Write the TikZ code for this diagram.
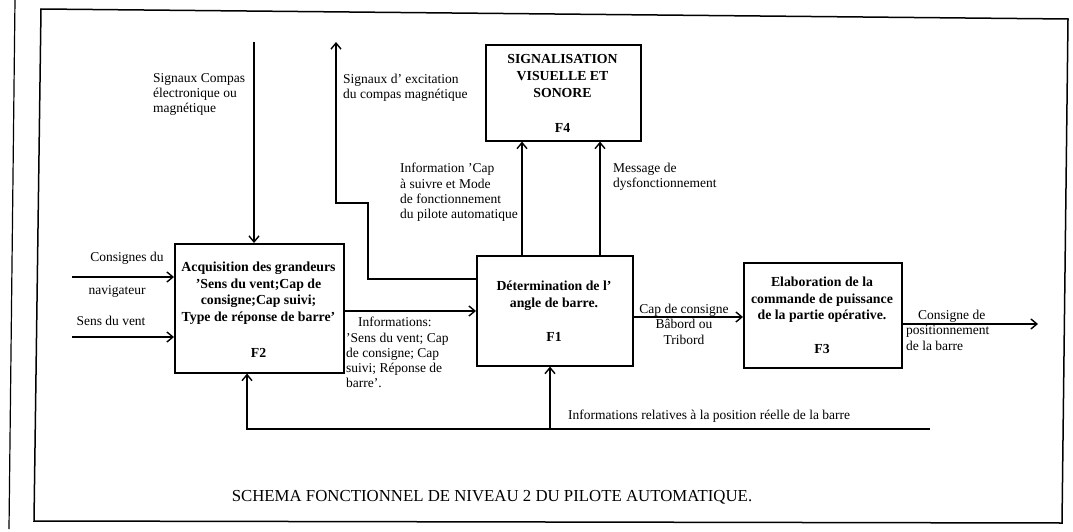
\documentclass[tikz,border=0pt]{standalone}
\usepackage{fontspec}
\setmainfont{Liberation Serif}
\usetikzlibrary{arrows.meta}
\begin{document}
\begin{tikzpicture}[x=1pt,y=-1pt,
  frame/.style={line width=1.5pt,line join=miter},
  arr/.style={line width=1.5pt,-{Straight Barb[length=6pt,width=10pt,line width=1.4pt]}},
  box/.style={draw,line width=1.6pt,inner sep=0pt,anchor=north west},
  lbl/.style={inner sep=0pt,anchor=north west,align=left,font=\fontsize{13.5}{15.3}\selectfont},
  clbl/.style={inner sep=0pt,align=center,font=\fontsize{13.5}{15.5}\selectfont},
  btxt/.style={inner sep=0pt,align=center,font=\fontsize{13.8}{16.8}\selectfont\bfseries},
  ttl/.style={inner sep=0pt,font=\fontsize{16.8}{19}\selectfont}
]
\useasboundingbox (0,0) rectangle (1073,532);
% frame (scanned, slightly skewed)
\draw[frame] (41,9) -- (1068,19) -- (1062,523) -- (34,521) -- cycle;
\draw[line width=1.2pt] (15,0) -- (9,529);

% boxes
\node[box,minimum width=155pt,minimum height=96pt] (F4) at (485,44) {};
\node[box,minimum width=169pt,minimum height=129pt] (F2) at (174,243) {};
\node[box,minimum width=156pt,minimum height=110pt] (F1) at (476,255) {};
\node[box,minimum width=158pt,minimum height=105pt] (F3) at (743,262) {};

% box texts
\node[btxt,anchor=north] (F4t) at (562.5,54.5) {SIGNALISATION\\VISUELLE ET\\SONORE};
\node[btxt] (F4n) at (562.5,128) {F4};
\node[btxt,anchor=north] (F2t) at (258.5,261.5) {Acquisition des grandeurs\\'Sens du vent;Cap de\\consigne;Cap suivi;\\Type de réponse de barre'};
\node[btxt] (F2n) at (258.5,353) {F2};
\node[btxt,anchor=north] (F1t) at (554,280.5) {Détermination de l'\\angle de barre.};
\node[btxt] (F1n) at (554,337) {F1};
\node[btxt,anchor=north] (F3t) at (822,276.5) {Elaboration de la\\commande de puissance\\de la partie opérative.};
\node[btxt] (F3n) at (822,349) {F3};

% connector points
\coordinate (cs) at (254,42);
\coordinate (e1) at (368,279);
\coordinate (e2) at (368,203);
\coordinate (e3) at (336,203);
\coordinate (e4) at (336,42);
\coordinate (s1) at (522,200);
\coordinate (s2) at (600,200);
\coordinate (i1) at (72,277);
\coordinate (i2) at (72,337);
\coordinate (m1) at (0,311);
\coordinate (m2) at (0,317);
\coordinate (o1) at (1038,324);
\coordinate (fb0) at (930,429);
\coordinate (fb1) at (247,429);
\coordinate (fb2) at (550,429);

% connectors
\draw[arr] (cs) -- (cs |- F2.north);
\draw[arr] (F1.west |- e1) -- (e1) -- (e2) -- (e3) -- (e4);
\draw[arr] (s1 |- F1.north) -- (s1 |- F4.south);
\draw[arr] (s2 |- F1.north) -- (s2 |- F4.south);
\draw[arr] (i1) -- (i1 -| F2.west);
\draw[arr] (i2) -- (i2 -| F2.west);
\draw[arr] (F2.east |- m1) -- (F1.west |- m1);
\draw[arr] (F1.east |- m2) -- (F3.west |- m2);
\draw[arr] (F3.east |- o1) -- (o1);
\draw[arr] (fb0) -- (fb1) -- (fb1 |- F2.south);
\draw[arr] (fb2) -- (fb2 |- F1.south);

% labels
\node[lbl] (lcomp) at (153,73) {Signaux Compas\\électronique ou\\magnétique};
\node[lbl] (lexc) at (343,74) {Signaux d' excitation\\du compas magnétique};
\node[lbl] (linfo) at (400,163) {Information 'Cap\\à suivre et Mode\\de fonctionnement\\du pilote automatique};
\node[lbl] (lmsg) at (613,163) {Message de\\dysfonctionnement};
\node[clbl] (lcons1) at (127,258) {Consignes du};
\node[clbl] (lcons2) at (117,291) {navigateur};
\node[clbl] (lsens) at (111,321) {Sens du vent};
\node[lbl] (linf2) at (346,317) {\hspace*{12pt}Informations:\\'Sens du vent; Cap\\de consigne; Cap\\suivi; Réponse de\\barre'.};
\node[clbl] (lcap) at (684,324) {Cap de consigne\\Bâbord ou\\Tribord};
\node[lbl] (lpos) at (906,310) {\hspace*{12pt}Consigne de\\positionnement\\de la barre};
\node[lbl] (lfb) at (568,410) {Informations relatives à la position réelle de la barre};
\node[ttl] (title) at (492,497) {SCHEMA FONCTIONNEL DE NIVEAU 2 DU PILOTE AUTOMATIQUE.};
\end{tikzpicture}
\end{document}
